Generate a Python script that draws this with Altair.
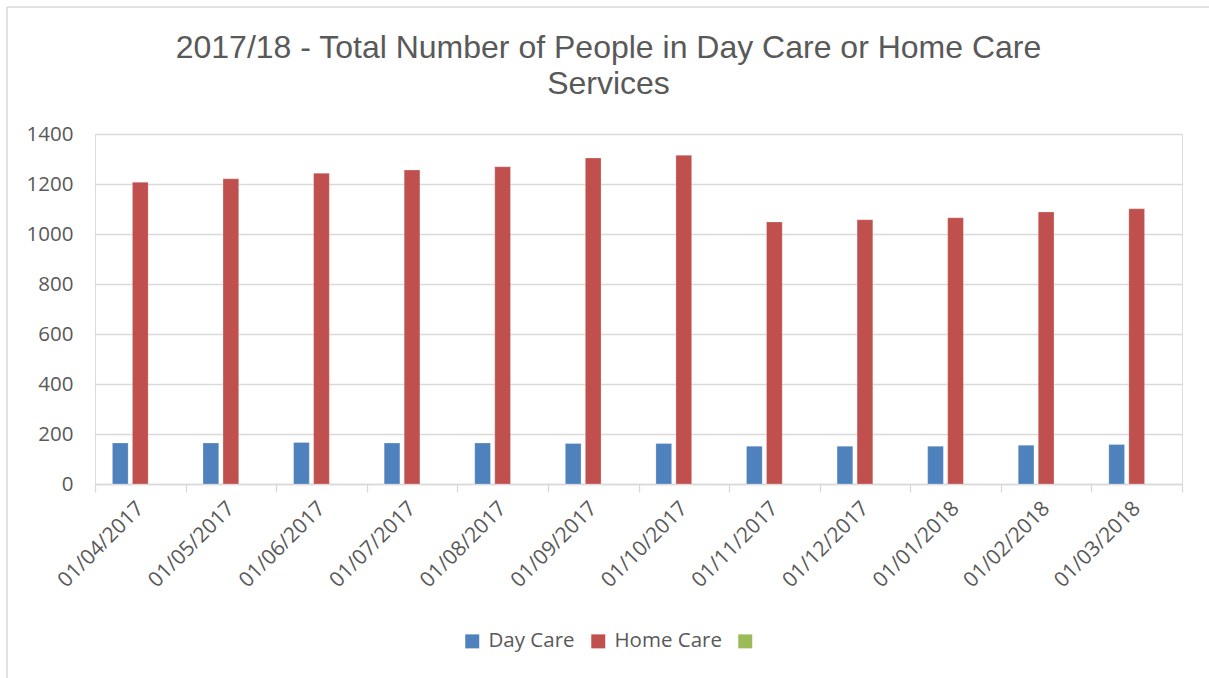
import altair as alt
import pandas as pd

title_lines = ["2017/18 - Total Number of People in Day Care or Home Care", "Services"]
dates = ["01/04/2017", "01/05/2017", "01/06/2017", "01/07/2017", "01/08/2017", "01/09/2017",
         "01/10/2017", "01/11/2017", "01/12/2017", "01/01/2018", "01/02/2018", "01/03/2018"]
day_care = [164, 164, 166, 164, 164, 162, 162, 151, 151, 151, 155, 158]
home_care = [1207, 1221, 1243, 1256, 1269, 1304, 1315, 1048, 1057, 1065, 1088, 1101]
series = ["Day Care", "Home Care", " "]
colors = ["#4F81BD", "#C0504D", "#9BBB59"]
y_ticks = [0, 200, 400, 600, 800, 1000, 1200, 1400]

rows = []
for d, dc, hc in zip(dates, day_care, home_care):
    rows.append({"date": d, "series": "Day Care", "value": dc})
    rows.append({"date": d, "series": "Home Care", "value": hc})
    rows.append({"date": d, "series": " ", "value": None})
df = pd.DataFrame(rows)

GRID = "#D9D9D9"
TXT = "#595959"
FONT = "Open Sans"

bars = alt.Chart(df).mark_bar(stroke="white", strokeWidth=0.4, strokeOpacity=0.6).encode(
    x=alt.X("date:N", sort=dates,
            scale=alt.Scale(paddingInner=0, paddingOuter=0),
            axis=alt.Axis(title=None, labelAngle=-45, labelAlign="right", labelBaseline="middle",
                          labelFontSize=21, labelFont=FONT, labelColor=TXT, labelPadding=13,
                          domainColor=GRID, domainWidth=1.3, tickColor=GRID, tickWidth=1.3,
                          tickSize=8, tickBand="extent", grid=False)),
    xOffset=alt.XOffset("series:N", sort=series,
                        scale=alt.Scale(domain=series, paddingInner=0.215, paddingOuter=0.87)),
    y=alt.Y("value:Q", scale=alt.Scale(domain=[0, 1400]),
            axis=alt.Axis(title=None, values=y_ticks, format="d", domain=False, ticks=False,
                          labelPadding=22, labelFontSize=20.5, labelFont=FONT, labelColor=TXT,
                          gridColor=GRID, gridWidth=1.3)),
    color=alt.Color("series:N", sort=series,
                    scale=alt.Scale(domain=series, range=colors),
                    legend=alt.Legend(title=None, orient="none", direction="horizontal",
                                      legendX=367, legendY=497, symbolType="square",
                                      symbolSize=196, symbolStrokeWidth=0, labelOffset=6,
                                      columnPadding=13, labelFontSize=20.5, labelFont=FONT,
                                      labelColor=TXT)),
)

frame = alt.Data(values=[{"k": 1}])
left_rule = alt.Chart(frame).mark_rule(color=GRID, strokeWidth=1.5).encode(
    x=alt.value(-88), y=alt.value(-127), y2=alt.value(600))
top_rule = alt.Chart(frame).mark_rule(color=GRID, strokeWidth=1.5).encode(
    x=alt.value(-88), x2=alt.value(1200), y=alt.value(-127))

title_df = pd.DataFrame({"line": title_lines, "idx": [0, 1]})
title1 = alt.Chart(title_df).transform_filter("datum.idx == 0").mark_text(
    font="Liberation Sans", fontSize=32, color=TXT, align="center", baseline="alphabetic").encode(
    text="line:N", x=alt.value(513.5), y=alt.value(-76))
title2 = alt.Chart(title_df).transform_filter("datum.idx == 1").mark_text(
    font="Liberation Sans", fontSize=32, color=TXT, align="center", baseline="alphabetic").encode(
    text="line:N", x=alt.value(513.5), y=alt.value(-40))

chart = alt.layer(left_rule, top_rule, title1, title2, bars).properties(
    width=1087, height=350,
    autosize=alt.AutoSizeParams(type="none"),
    padding={"left": 95, "top": 134, "right": 27, "bottom": 194},
).configure_view(stroke=None).configure(background="white")

chart.save("out.html", embed_options={"renderer": "svg", "actions": False})
